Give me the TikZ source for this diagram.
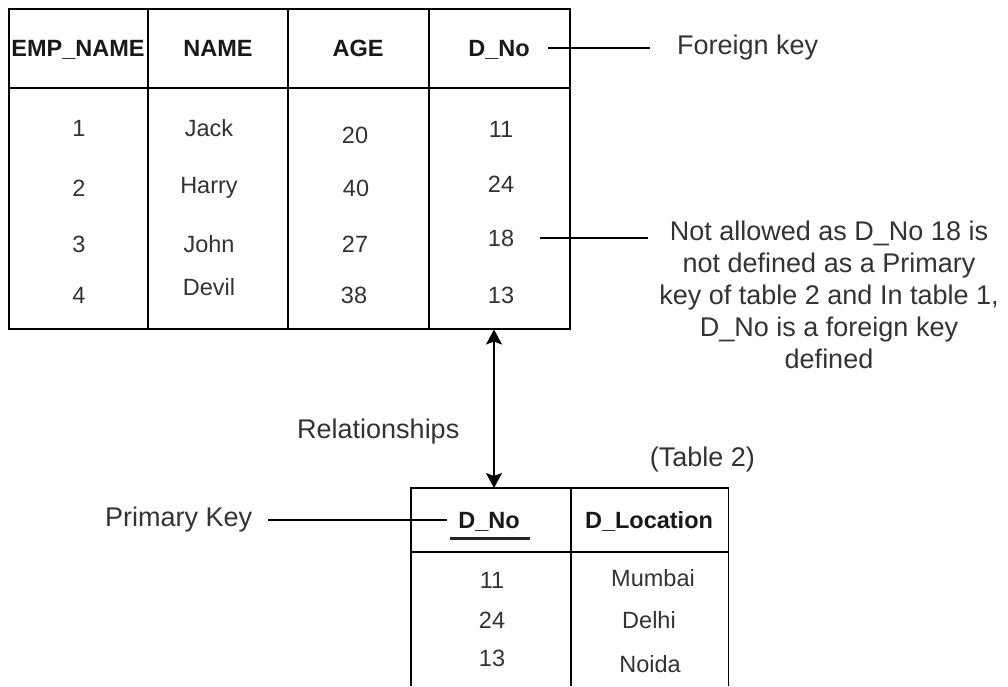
\documentclass[tikz,border=0pt]{standalone}
\usepackage{fontspec}
\setmainfont{Liberation Sans}
\usetikzlibrary{arrows.meta}
\definecolor{ink}{HTML}{333333}
\tikzset{
  frame/.style={line width=1.5pt, black},
  head/.style={anchor=base, inner sep=0pt, font=\fontsize{23.5}{28}\selectfont\bfseries, text=black!90},
  cell/.style={anchor=base, inner sep=0pt, font=\fontsize{23.5}{28}\selectfont, text=ink},
  note/.style={inner sep=0pt, font=\fontsize{27}{32}\selectfont, text=ink},
  lead/.style={line width=1.3pt, black},
  link/.style={line width=1.5pt, black, {Stealth[length=15pt,width=16pt,inset=3pt]}-{Stealth[length=15pt,width=16pt,inset=3pt]}}
}
\begin{document}
\begin{tikzpicture}[x=1pt,y=-1pt]
\useasboundingbox[fill=white] (0,0) rectangle (1008,686);

% ---- Table 1: employees ----
\node[frame, draw, minimum width=561pt, minimum height=320pt, inner sep=0pt, anchor=north west] (t1) at (8,8) {};
\draw[frame] (8,88) -- (569,88);
\foreach \cx in {148,288,429} \draw[frame] (\cx,8) -- (\cx,328);

\node[head] (h1) at (78,56.4) {EMP\_NAME};
\node[head] (h2) at (218,56.4) {NAME};
\node[head] (h3) at (358,56.4) {AGE};
\node[head] (h4) at (499,56.4) {D\_No};

\node[cell] (e1) at (79,136.4) {1};
\node[cell] (e2) at (79,196.4) {2};
\node[cell] (e3) at (79,252.4) {3};
\node[cell] (e4) at (79,303.4) {4};

\node[cell] (n1) at (209,136.4) {Jack};
\node[cell] (n2) at (209,193.4) {Harry};
\node[cell] (n3) at (209,252.4) {John};
\node[cell] (n4) at (209,295.4) {Devil};

\node[cell] (a1) at (355,143.4) {20};
\node[cell] (a2) at (356,196.4) {40};
\node[cell] (a3) at (355,252.4) {27};
\node[cell] (a4) at (354,303.4) {38};

\node[cell] (d1) at (501,137.4) {11};
\node[cell] (d2) at (501,192.4) {24};
\node[cell] (d3) at (501,246.4) {18};
\node[cell] (d4) at (501,303.4) {13};

% ---- Table 2: departments ----
\node[inner sep=0pt, minimum width=317pt, minimum height=198pt, anchor=north west] (t2) at (411,488) {};
\draw[frame] (t2.south west) -- (t2.north west) -- (t2.north east) -- (t2.south east);
\draw[frame] (411,552) -- (728,552);
\draw[frame] (571,488) -- (571,686);

\node[head] (k1) at (489,528.4) {D\_No};
\node[head] (k2) at (649,528.4) {D\_Location};
\draw[line width=3pt, black!85] (450,538) -- (530,538);

\node[cell] (p1) at (492,588.4) {11};
\node[cell] (p2) at (492,628.4) {24};
\node[cell] (p3) at (492,666.4) {13};
\node[cell] (l1) at (653,586.4) {Mumbai};
\node[cell] (l2) at (649,628.4) {Delhi};
\node[cell] (l3) at (650,672.4) {Noida};

% ---- annotations ----
\node[note, anchor=west] (fk) at (677,48) {Foreign key};
\node[note, anchor=west] (pk) at (105,520) {Primary Key};
\node[note, anchor=west] (rel) at (297,432) {Relationships};
\node[note, anchor=east] (tb2) at (755,460) {(Table 2)};
\node[note, anchor=north, align=center] (bad) at (829,221)
  {Not allowed as D\_No 18 is\\not defined as a Primary\\key of table 2 and In table 1,\\D\_No is a foreign key\\defined};

% leader lines
\coordinate (fkA) at (548,48);
\coordinate (fkB) at (650,48);
\coordinate (badA) at (540,238);
\coordinate (badB) at (648,238);
\coordinate (pkA) at (268,520);
\coordinate (pkB) at (447,520);
\draw[lead] (fkA) -- (fkB);
\draw[lead] (badA) -- (badB);
\draw[lead] (pkA) -- (pkB);

% relationship between the two D_No columns
\coordinate (relx) at (494,0);
\draw[link] (t1.south -| relx) -- (t2.north -| relx);
\end{tikzpicture}
\end{document}
